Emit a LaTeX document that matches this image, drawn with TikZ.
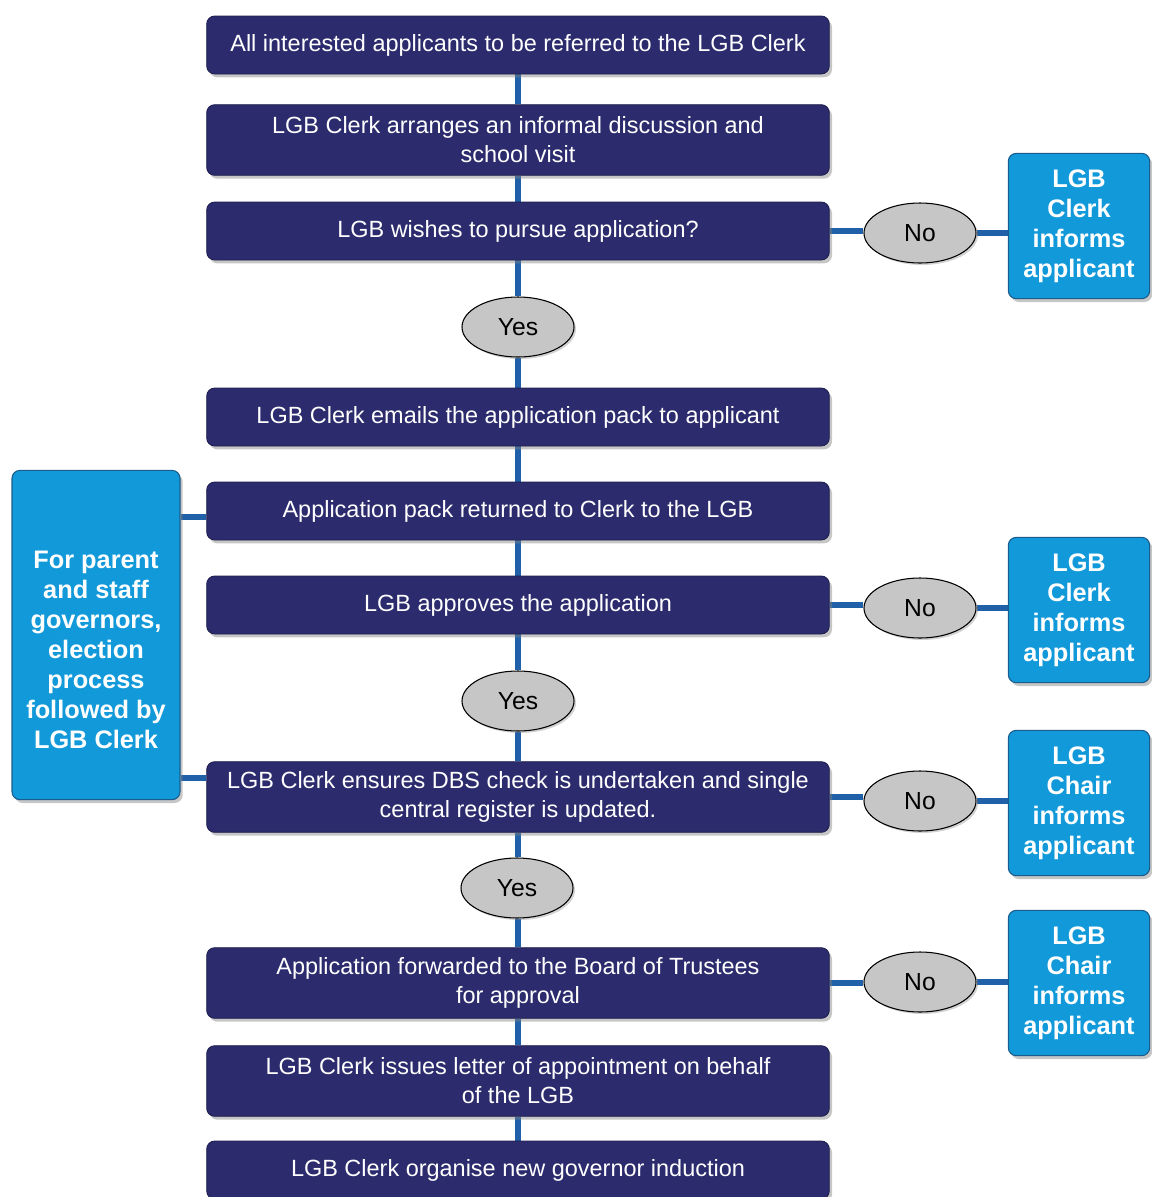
\documentclass[tikz,border=0pt]{standalone}
\usepackage{fontspec}
\setmainfont{Liberation Sans}
\usetikzlibrary{shapes.geometric,shadows,calc,backgrounds}
\definecolor{navy}{HTML}{2B2B6D}
\definecolor{sky}{HTML}{1299DA}
\definecolor{skyedge}{HTML}{1B5C8C}
\definecolor{conn}{HTML}{2060A8}
\definecolor{oval}{HTML}{C6C6C6}
\tikzset{
  mainbox/.style={draw=navy!70!black, line width=0.6pt, fill=navy, rounded corners=6pt, minimum width=467pt,
    text=white, align=center, font=\fontsize{17.6}{21.8}\selectfont, inner xsep=4pt,
    drop shadow={opacity=0.45, shadow xshift=2pt, shadow yshift=-2.5pt}},
  onebox/.style={mainbox, minimum height=43.5pt},
  twobox/.style={mainbox, minimum height=53pt},
  sidebox/.style={draw=skyedge, line width=0.8pt, fill=sky, rounded corners=6pt, text=white, align=center,
    font=\bfseries\fontsize{19}{22.5}\selectfont, inner sep=0pt,
    drop shadow={opacity=0.45, shadow xshift=2pt, shadow yshift=-2.5pt}},
  notetext/.style={text=white, align=center, font=\bfseries\fontsize{19}{22.5}\selectfont, inner sep=0pt},
  answer/.style={ellipse, draw=black, line width=0.8pt, fill=oval, minimum width=84pt, minimum height=45pt,
    inner sep=0pt, font=\fontsize{18.5}{20}\selectfont,
    drop shadow={opacity=0.35, shadow xshift=1.5pt, shadow yshift=-1.5pt}},
  link/.style={draw=conn, line width=4.3pt}
}
\begin{document}
\begin{tikzpicture}[x=0.75pt, y=-0.75pt]
\useasboundingbox (0,0) rectangle (1152,1197);
% main column
\node[onebox] (b1) at (518,45) {All interested applicants to be referred to the LGB Clerk};
\node[twobox] (b2) at (518,140) {LGB Clerk arranges an informal discussion and\\school visit};
\node[onebox] (b3) at (518,231) {LGB wishes to pursue application?};
\node[answer] (y1) at (518,327) {Yes};
\node[onebox] (b4) at (518,417) {LGB Clerk emails the application pack to applicant};
\node[onebox] (b5) at (518,511) {Application pack returned to Clerk to the LGB};
\node[onebox] (b6) at (518,605) {LGB approves the application};
\node[answer] (y2) at (518,701) {Yes};
\node[twobox] (b7) at (518,797) {LGB Clerk ensures DBS check is undertaken and single\\central register is updated.};
\node[answer] (y3) at (517,888) {Yes};
\node[twobox] (b8) at (518,983) {Application forwarded to the Board of Trustees\\for approval};
\node[twobox] (b9) at (518,1081) {LGB Clerk issues letter of appointment on behalf\\of the LGB};
\node[onebox] (b10) at (518,1170) {LGB Clerk organise new governor induction};
% No branches
\node[answer] (n1) at (920,233) {No};
\node[answer] (n2) at (920,608) {No};
\node[answer] (n3) at (920,801) {No};
\node[answer] (n4) at (920,982) {No};
\node[sidebox, minimum width=106pt, minimum height=109pt] (r1) at (1079,226) {LGB\\Clerk\\informs\\applicant};
\node[sidebox, minimum width=106pt, minimum height=109pt] (r2) at (1079,610) {LGB\\Clerk\\informs\\applicant};
\node[sidebox, minimum width=106pt, minimum height=109pt] (r3) at (1079,803) {LGB\\Chair\\informs\\applicant};
\node[sidebox, minimum width=106pt, minimum height=109pt] (r4) at (1079,983) {LGB\\Chair\\informs\\applicant};
% left note
\node[sidebox, minimum width=126pt, minimum height=247pt] (lnote) at (96,635) {};
\node[notetext] (lnotetext) at (96,650) {For parent\\and staff\\governors,\\election\\process\\followed by\\LGB Clerk};
% connectors (behind)
\begin{pgfonlayer}{background}
\path[link] (b1) -- (b2) (b2) -- (b3) (b3) -- (y1) (y1) -- (b4) (b4) -- (b5) (b5) -- (b6)
  (b6) -- (y2) (y2) -- (b7) (b7.south) -- (y3.north -| b7.south) (y3.south -| b8.north) -- (b8.north) (b8) -- (b9) (b9) -- (b10);
\path[link] (b3.east) -- (n1.west |- b3.east) (n1.east) -- (n1.east -| r1.west);
\path[link] (b6.east) -- (n2.west |- b6.east) (n2.east) -- (n2.east -| r2.west);
\path[link] (b7.east) -- (n3.west |- b7.east) (n3.east) -- (n3.east -| r3.west);
\path[link] (b8.east) -- (n4.west |- b8.east) (n4.east) -- (n4.east -| r4.west);
\coordinate (l1) at ($(b5.west)+(0,6)$);
\coordinate (l2) at ($(b7.west)+(0,-19)$);
\path[link] (l1) -- (l1 -| lnote.east) (l2) -- (l2 -| lnote.east);
\end{pgfonlayer}
\end{tikzpicture}
\end{document}
